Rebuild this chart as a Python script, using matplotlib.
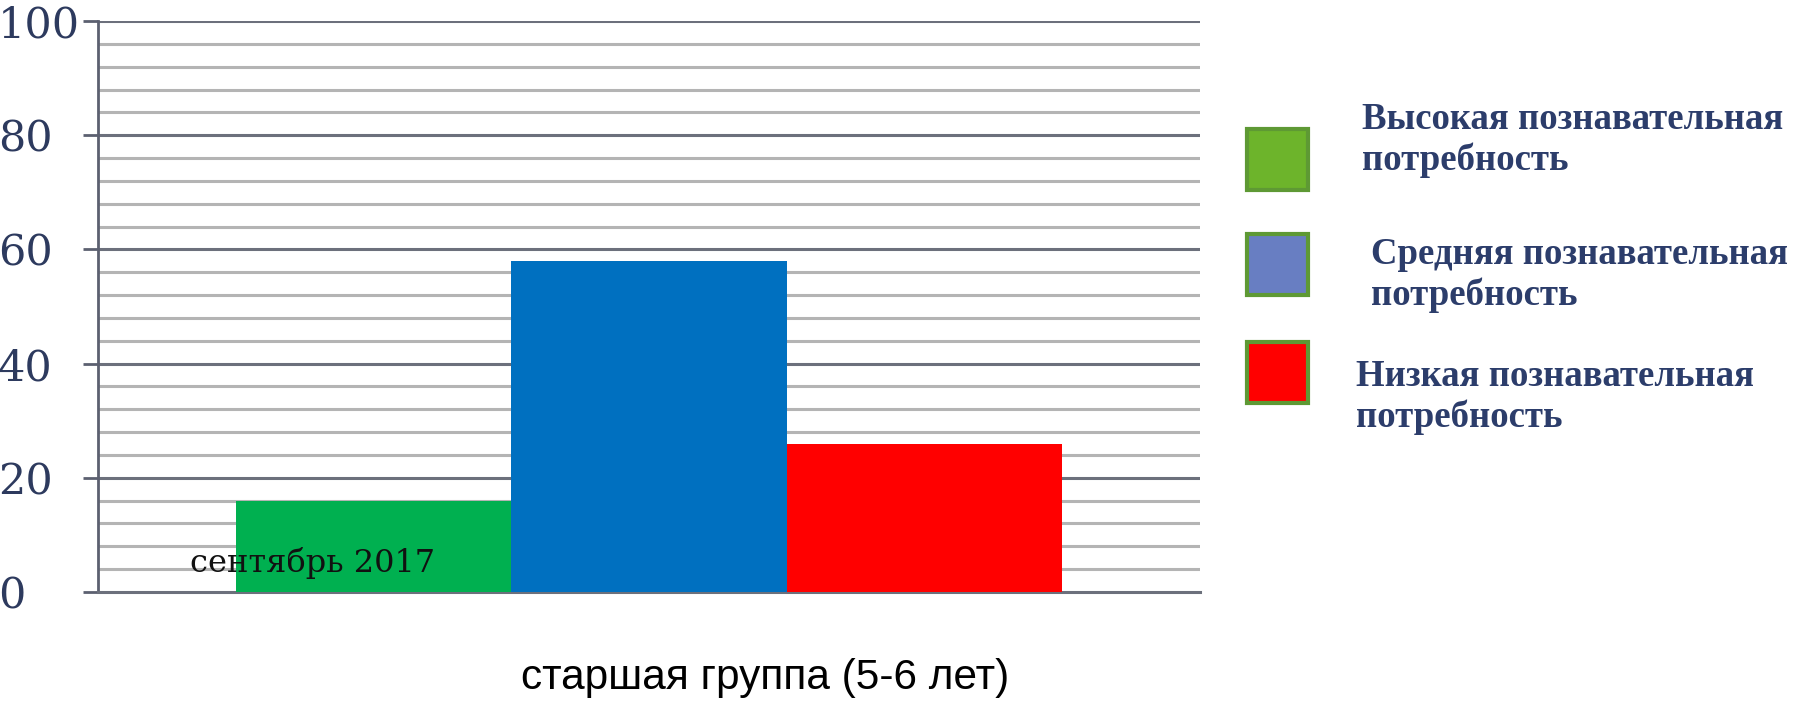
import matplotlib.pyplot as plt
from matplotlib.patches import Rectangle

# data
categories = ['Высокая познавательная\nпотребность',
              'Средняя познавательная\nпотребность',
              'Низкая познавательная\nпотребность']
values = [16, 58, 26]
bar_colors = ['#00b050', '#0070c0', '#ff0000']
legend_colors = ['#6db42b', '#687ec2', '#ff0000']
y_ticks = [0, 20, 40, 60, 80, 100]
period_label = 'сентябрь 2017'
group_label = 'старшая группа (5-6 лет)'

W, H = 1810, 701
fig = plt.figure(figsize=(W / 100, H / 100), dpi=100)
ax = fig.add_axes([98 / W, 1 - 592 / H, (1200 - 98) / W, (592 - 21) / H])

# grid lines every 4 units, darker every 20
for y in range(4, 101, 4):
    if y % 20 == 0:
        ax.axhline(y, color='#6c707c', lw=2.2, zorder=1)
    else:
        ax.axhline(y, color='#b4b4b4', lw=2.2, zorder=1)

x = list(range(len(values)))
ax.bar(x, values, width=1.0, color=bar_colors, edgecolor='none', zorder=3)

ax.set_xlim(-1, 3)
ax.set_ylim(0, 100)
ax.set_yticks(y_ticks)
ax.set_yticklabels([str(v) for v in y_ticks], family='DejaVu Serif',
                   fontsize=31, color='#2d3a5e')
ax.tick_params(axis='y', length=11, width=2, color='#5c6070', pad=61)
for t in ax.get_yticklabels():
    t.set_horizontalalignment('left')
ax.set_xticks([])
for s in ['top', 'right']:
    ax.spines[s].set_visible(False)
ax.spines['left'].set_color('#5c6070')
ax.spines['left'].set_linewidth(2)
ax.spines['bottom'].set_color('#6c707c')
ax.spines['bottom'].set_linewidth(2.2)

ax.text(-0.22, 5.0, period_label, family='DejaVu Serif', fontsize=23,
        color='#111111', ha='center', va='center', zorder=4)

fig.text(765 / W, 1 - 678 / H, group_label, family='Liberation Sans',
         fontsize=30.5, color='black', ha='center', va='center')

# legend drawn by hand
box_tops = [129, 234, 342]
text_x = [1362, 1371, 1356]
text_y = [140, 275, 397]
for i, lab in enumerate(categories):
    fig.add_artist(Rectangle((1247 / W, 1 - (box_tops[i] + 61) / H), 61 / W, 61 / H,
                             transform=fig.transFigure, facecolor=legend_colors[i],
                             edgecolor='#5e9934', lw=3))
    fig.text(text_x[i] / W, 1 - text_y[i] / H, lab, family='Liberation Serif',
             fontweight='bold', fontsize=26.5, color='#2c3d6b', ha='left',
             va='center', linespacing=1.17)

fig.savefig('out.png', dpi=100)
